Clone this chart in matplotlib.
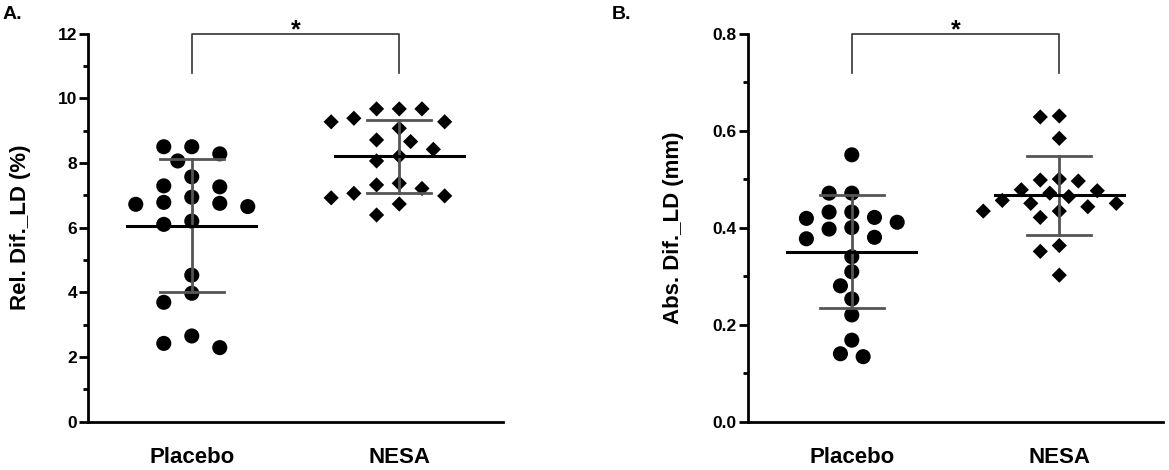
import numpy as np
import matplotlib
matplotlib.use("Agg")
import matplotlib.pyplot as plt
from matplotlib.ticker import MultipleLocator, FormatStrFormatter

plt.rcParams['font.family'] = ['Liberation Sans', 'DejaVu Sans']
plt.rcParams['font.weight'] = 'bold'

groups = ["Placebo", "NESA"]

# panel A: relative difference LD (%)
rel_placebo = [8.50, 8.28, 8.06, 8.50, 7.57, 7.26, 7.29, 6.94, 6.75, 6.65,
               6.72, 6.78, 6.20, 6.10, 4.53, 3.97, 3.69, 2.65, 2.29, 2.42]
rel_nesa = [9.67, 9.67, 9.67, 9.27, 9.38, 9.27, 9.07, 8.71, 8.66, 8.42,
            8.21, 8.06, 7.21, 7.37, 7.32, 6.92, 6.73, 6.98, 7.06, 6.39]

# panel B: absolute difference LD (mm)
abs_placebo = [0.550, 0.471, 0.471, 0.419, 0.432, 0.411, 0.421, 0.432, 0.397, 0.400,
               0.377, 0.380, 0.340, 0.309, 0.280, 0.253, 0.220, 0.168, 0.134, 0.140]
abs_nesa = [0.628, 0.630, 0.584, 0.496, 0.498, 0.500, 0.471, 0.476, 0.478, 0.464,
            0.456, 0.450, 0.450, 0.434, 0.443, 0.434, 0.421, 0.363, 0.351, 0.302]


def swarm_x(ax, xc, vals, w_px, h_px):
    # simple beeswarm in pixel space, then back to data coords
    vals = np.asarray(vals, dtype=float)
    pts = ax.transData.transform(np.column_stack([np.full(len(vals), xc), vals]))
    ypx = pts[:, 1]
    x0 = pts[0, 0]
    offs = np.zeros(len(vals))
    placed = []
    cands = [0]
    for k in range(1, 12):
        cands += [-k, k]
    for i in np.argsort(-vals, kind="stable"):
        for k in cands:
            dx = k * w_px / 2
            ok = True
            for px, py in placed:
                if ((dx - px) / w_px) ** 2 + ((ypx[i] - py) / h_px) ** 2 < 1:
                    ok = False
                    break
            if ok:
                break
        offs[i] = dx
        placed.append((dx, ypx[i]))
    back = ax.transData.inverted().transform(np.column_stack([x0 + offs, ypx]))
    return back[:, 0]


def panel(ax, data, markers, sizes, widths, ymax, major, fmt, ylabel, lpad):
    ax.set_xlim(-0.5, 1.5)
    ax.set_ylim(0, ymax)
    for i, (vals, m, s, w) in enumerate(zip(data, markers, sizes, widths)):
        xs = swarm_x(ax, i, vals, w, 15)
        ax.scatter(xs, vals, marker=m, s=s, color="black", edgecolors="none",
                   zorder=3, clip_on=False)
        mean = np.mean(vals)
        sd = np.std(vals, ddof=1)
        ax.plot([i, i], [mean - sd, mean + sd], color="#555555", lw=2.0, zorder=4)
        for yy in (mean - sd, mean + sd):
            ax.plot([i - 0.155, i + 0.155], [yy, yy], color="#555555", lw=2.0, zorder=4)
        ax.plot([i - 0.31, i + 0.31], [mean, mean], color="black", lw=2.2, zorder=5)

    # significance bracket
    top = ymax
    low = ymax * 0.8975
    ax.plot([0, 0, 1, 1], [low, top, top, low], color="#333333", lw=1.2,
            clip_on=False, zorder=2)
    ax.annotate("*", (0.5, top), xytext=(0, -3), textcoords="offset points",
                ha="center", va="baseline", fontsize=18, fontweight="bold",
                annotation_clip=False)

    ax.spines["top"].set_visible(False)
    ax.spines["right"].set_visible(False)
    ax.spines["left"].set_linewidth(2.0)
    ax.spines["bottom"].set_linewidth(2.0)
    ax.yaxis.set_major_locator(MultipleLocator(major))
    ax.yaxis.set_minor_locator(MultipleLocator(major / 2))
    ax.yaxis.set_major_formatter(FormatStrFormatter(fmt))
    ax.tick_params(axis="y", which="major", length=6.5, width=2.0, labelsize=12.5, pad=1.5)
    ax.tick_params(axis="y", which="minor", length=3.5, width=2.0)
    ax.set_xticks([0, 1])
    ax.set_xticklabels(groups, fontsize=16, fontweight="bold")
    ax.tick_params(axis="x", length=0, pad=18)
    ax.set_ylabel(ylabel, fontsize=16, fontweight="bold", labelpad=lpad)


fig = plt.figure(figsize=(11.69, 4.70), dpi=100)
axA = fig.add_axes([0.0753, 0.1028, 0.355, 0.8259])
axB = fig.add_axes([0.6399, 0.1028, 0.355, 0.8259])

panel(axA, [rel_placebo, rel_nesa], ["o", "D"], [118, 60], [28, 22.7],
      12, 2, "%d", "Rel. Dif._LD (%)", 19)
panel(axB, [abs_placebo, abs_nesa], ["o", "D"], [118, 60], [22.7, 19],
      0.8, 0.2, "%.1f", "Abs. Dif._LD (mm)", 21)

fig.text(3 / 1169, 1 - 6 / 470, "A.", ha="left", va="top", fontsize=14, fontweight="bold")
fig.text(612 / 1169, 1 - 6 / 470, "B.", ha="left", va="top", fontsize=14, fontweight="bold")

fig.savefig("out.png", dpi=100)
